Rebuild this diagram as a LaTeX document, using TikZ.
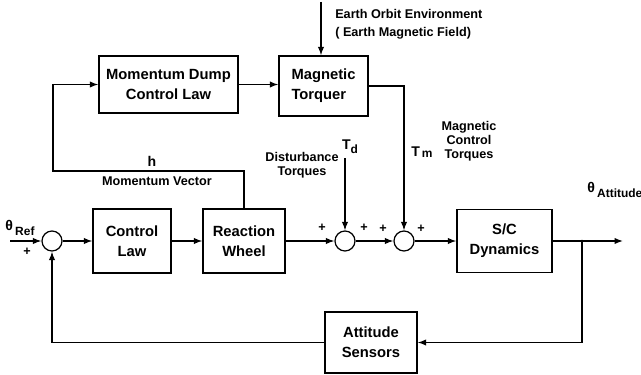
\documentclass[tikz,border=0pt]{standalone}
\usepackage{fontspec}
\setmainfont{Liberation Sans}
\usetikzlibrary{arrows.meta,positioning,calc}

\tikzset{
  blok/.style={draw, line width=0.9pt, align=center, inner sep=1pt,
    font=\bfseries\fontsize{10.5}{14}\selectfont},
  sumnode/.style={circle, draw, line width=0.9pt, minimum size=0.5cm, inner sep=0pt},
  arr/.style={line width=0.9pt, -{Latex[length=6pt,width=4.5pt]}},
  wire/.style={line width=0.9pt},
  lbl/.style={font=\bfseries\fontsize{9}{9.8}\selectfont, inner sep=0pt, align=center},
  sig/.style={font=\bfseries\fontsize{10}{12}\selectfont, inner sep=0pt},
  plus/.style={font=\bfseries\fontsize{9}{10}\selectfont, inner sep=0pt}
}

\begin{document}
\begin{tikzpicture}[x=0.025cm, y=-0.025cm]
  \useasboundingbox (0,0) rectangle (641,375);

  % blocks
  \node[blok, minimum width=3.475cm, minimum height=1.425cm] (dump) at (168.5,84.5) {Momentum Dump\\Control Law};
  \node[blok, minimum width=2.225cm, minimum height=1.5cm, align=left] (torq) at (323.5,86) {Magnetic\\Torquer};
  \node[blok, minimum width=1.95cm, minimum height=1.6cm] (ctrl) at (132,241) {Control\\Law};
  \node[blok, minimum width=2.05cm, minimum height=1.6cm] (wheel) at (244,241) {Reaction\\Wheel};
  \node[blok, minimum width=2.375cm, minimum height=1.575cm] (dyn) at (504.5,241) {S/C\\Dynamics};
  \node[blok, minimum width=2.3cm, minimum height=1.525cm] (sens) at (371,342.5) {Attitude\\Sensors};

  % summing points
  \node[sumnode] (s1) at (52,241) {};
  \node[sumnode] (s2) at (345,241) {};
  \node[sumnode] (s3) at (404,241) {};

  % free ends
  \coordinate (in) at (10,241);
  \coordinate (out) at (623,241);
  \coordinate (br) at (582,241);
  \coordinate (hleft) at (53,171);
  \coordinate (earth) at (321,2);
  \coordinate (dist) at (345,158);

  % forward path
  \draw[arr] (in) -- (s1);
  \draw[arr] (s1) -- (ctrl);
  \draw[arr] (ctrl) -- (wheel);
  \draw[arr] (wheel) -- (s2);
  \draw[arr] (s2) -- (s3);
  \draw[arr] (s3) -- (dyn);
  \draw[arr] (dyn) -- (out);
  \fill (br) circle (1pt);

  % feedback
  \draw[arr] (br) |- (sens);
  \draw[arr] (sens) -| (s1);

  % momentum dump loop
  \draw[arr] (wheel.north) |- (hleft) |- (dump.west);
  \draw[arr] (dump.east) -- (dump.east -| torq.west);
  \draw[arr] (torq.east |- 0,86) -| (s3.north);
  \draw[arr] (earth) -- (earth |- torq.north);
  \draw[arr] (dist) -- (s2.north);

  % labels
  \node[sig, anchor=west] (thref) at (5,228) {θ\,\raisebox{-0.35em}{\fontsize{8.5}{9}\selectfont Ref}};
  \node[sig, anchor=west] (thatt) at (587,190) {θ\,\raisebox{-0.35em}{\fontsize{8.5}{9}\selectfont Attitude}};
  \node[plus] (p1) at (27,252) {+};
  \node[plus] (p2) at (322,228) {+};
  \node[plus] (p3) at (364,228) {+};
  \node[plus] (p4) at (383,229) {+};
  \node[plus] (p5) at (421,229) {+};
  \node[sig] (hlab) at (152,161) {h};
  \node[lbl] (mvec) at (157,181) {Momentum Vector};
  \node[lbl] (dtq) at (302,165) {Disturbance\\Torques};
  \node[sig] (tdlab) at (350,147) {T\raisebox{-0.3em}{\fontsize{8.5}{9}\selectfont d}};
  \node[sig] (tmlab) at (422,152) {T\raisebox{-0.1em}{\fontsize{8.5}{9}\selectfont\,m}};
  \node[lbl] (mct) at (469,141) {Magnetic\\Control\\Torques};
  \node[lbl, anchor=west, align=left, font=\bfseries\fontsize{9}{12.8}\selectfont] (env) at (335,24) {Earth Orbit Environment\\( Earth Magnetic Field)};
\end{tikzpicture}
\end{document}
